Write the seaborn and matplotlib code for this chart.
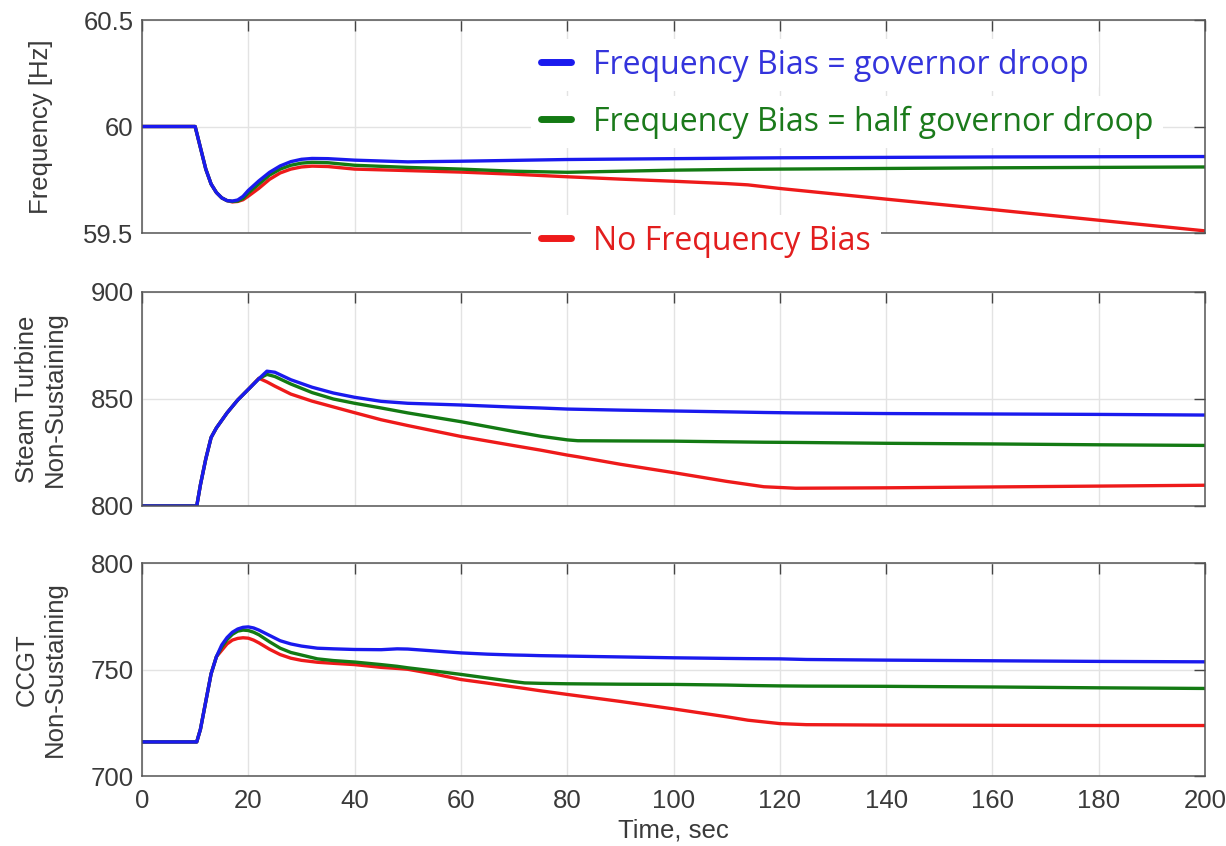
import numpy as np
import pandas as pd
import matplotlib
matplotlib.use("Agg")
import matplotlib.pyplot as plt
from matplotlib.lines import Line2D
import seaborn as sns

# ---------------- data ----------------
series_names = ["Frequency Bias = governor droop",
                "Frequency Bias = half governor droop",
                "No Frequency Bias"]
series_colors = ["#1a1aee", "#137a13", "#ee1a1a"]
text_colors = ["#3434dc", "#1b7a1b", "#e21e1e"]

# Frequency panel
t_freq = [0, 10, 11, 12, 13, 14, 15, 16, 17, 18, 19, 20, 22, 24, 26, 28, 30, 32, 35,
          40, 50, 60, 70, 80, 90, 100, 110, 114, 120, 140, 160, 180, 200]
freq_blue = [60.0, 60.0, 59.90, 59.80, 59.73, 59.69, 59.665, 59.652, 59.65, 59.655, 59.672,
             59.70, 59.745, 59.785, 59.815, 59.835, 59.846, 59.85, 59.849, 59.842, 59.834,
             59.837, 59.841, 59.845, 59.847, 59.849, 59.851, 59.852, 59.853, 59.855,
             59.857, 59.858, 59.859]
freq_green = [60.0, 60.0, 59.90, 59.80, 59.73, 59.69, 59.665, 59.652, 59.648, 59.65, 59.662,
              59.688, 59.73, 59.772, 59.80, 59.818, 59.828, 59.832, 59.83, 59.818, 59.808,
              59.80, 59.79, 59.785, 59.79, 59.795, 59.798, 59.799, 59.80, 59.803,
              59.806, 59.808, 59.81]
freq_red = [60.0, 60.0, 59.90, 59.80, 59.73, 59.69, 59.665, 59.652, 59.646, 59.648, 59.656,
            59.673, 59.71, 59.752, 59.782, 59.80, 59.81, 59.814, 59.812, 59.80, 59.793,
            59.786, 59.776, 59.764, 59.753, 59.743, 59.732, 59.726, 59.709, 59.659,
            59.61, 59.56, 59.51]

# Steam turbine panel
t_steam = [0, 10.3, 11, 12, 13, 14, 16, 18, 20, 22, 23.5, 25, 28, 32, 36, 40, 45, 50,
           60, 70, 75, 80, 82, 90, 100, 110, 117, 123, 140, 160, 180, 200]
steam_blue = [800, 800, 810, 822, 832, 836.5, 843.5, 849.5, 854.5, 859.5, 863, 862.5, 859,
              855.5, 852.8, 850.8, 848.9, 848, 847.2, 846.2, 845.8, 845.3, 845.2, 844.8,
              844.4, 844, 843.7, 843.5, 843.2, 843, 842.8, 842.5]
steam_green = [800, 800, 810, 822, 832, 836.5, 843.5, 849.5, 854.5, 859.5, 861.5, 860.5, 857,
               853, 850, 848, 845.8, 843.5, 839.4, 834.8, 832.6, 830.9, 830.5, 830.4,
               830.3, 830, 829.8, 829.7, 829.3, 829, 828.6, 828.3]
steam_red = [800, 800, 810, 822, 832, 836.5, 843.5, 849.5, 854.5, 859.7, 858, 856, 852.3,
             849, 846.3, 843.6, 840.3, 837.6, 832.5, 828.2, 826.1, 823.8, 823, 819.5,
             815.6, 811.5, 809, 808.3, 808.5, 808.9, 809.3, 809.7]

# CCGT panel
t_ccgt = [0, 10.3, 11, 12, 13, 14, 15, 16, 17, 18, 19, 20, 21, 22, 24, 26, 28, 30, 33, 36,
          40, 45, 48, 50, 55, 60, 65, 70, 72, 75, 80, 90, 100, 110, 114, 120, 125, 140,
          160, 180, 200]
ccgt_blue = [716, 716, 722, 735, 748, 756, 761.5, 765, 767.5, 769, 769.8, 770, 769.5, 768.5,
             766, 763.5, 762, 761, 760, 759.7, 759.4, 759.3, 759.7, 759.6, 758.7, 757.8,
             757.2, 756.8, 756.7, 756.5, 756.3, 755.9, 755.5, 755.2, 755.1, 755, 754.7,
             754.4, 754.1, 753.8, 753.6]
ccgt_green = [716, 716, 722, 735, 748, 756, 760.5, 764, 766.5, 768, 768.5, 768.3, 767.5,
              766.3, 763, 760, 758, 756.8, 755, 754.2, 753.5, 752.3, 751.5, 750.8, 749.3,
              747.7, 746, 744.3, 743.7, 743.5, 743.3, 743.1, 743, 742.7, 742.5, 742.3,
              742.2, 742.1, 741.8, 741.4, 741.1]
ccgt_red = [716, 716, 722, 735, 748, 756, 759, 762, 763.8, 764.6, 764.9, 764.7, 763.8,
            762.5, 759.5, 757, 755.3, 754.3, 753.4, 752.9, 752.3, 751.0, 750.5, 750.1,
            747.9, 745.3, 743.6, 741.8, 741.1, 740, 738.3, 735, 731.5, 727.8, 726.2,
            724.6, 724.1, 723.9, 723.8, 723.7, 723.7]

x_ticks = [0, 20, 40, 60, 80, 100, 120, 140, 160, 180, 200]
freq_ticks = [59.5, 60, 60.5]
freq_ticklabels = ["59.5", "60", "60.5"]
steam_ticks = [800, 850, 900]
ccgt_ticks = [700, 750, 800]
ylabels = ["Frequency [Hz]", "Steam Turbine\nNon-Sustaining", "CCGT\nNon-Sustaining"]
xlabel = "Time, sec"


def long_df(t, blue, green, red):
    frames = []
    for name, vals in zip(series_names, [blue, green, red]):
        frames.append(pd.DataFrame({"t": t, "v": vals, "case": name}))
    return pd.concat(frames, ignore_index=True)


panels = [
    (long_df(t_freq, freq_blue, freq_green, freq_red), (59.5, 60.5), freq_ticks, freq_ticklabels),
    (long_df(t_steam, steam_blue, steam_green, steam_red), (800, 900), steam_ticks, None),
    (long_df(t_ccgt, ccgt_blue, ccgt_green, ccgt_red), (700, 800), ccgt_ticks, None),
]

# ---------------- style ----------------
sns.set_theme(style="white")
plt.rcParams["font.family"] = ["Liberation Sans", "DejaVu Sans"]

W, H = 1226, 846
fig = plt.figure(figsize=(W / 100, H / 100), dpi=100)
boxes = [(20, 233), (292, 506), (563, 776)]
left_px, right_px = 142, 1205
axes = []
for (top, bot) in boxes:
    ax = fig.add_axes([left_px / W, 1 - bot / H, (right_px - left_px) / W, (bot - top) / H])
    axes.append(ax)

palette = dict(zip(series_names, series_colors))
tick_color = "#3a3a3a"
FS = 18.5
for i, (ax, (df, ylim, yt, ytl)) in enumerate(zip(axes, panels)):
    sns.lineplot(data=df, x="t", y="v", hue="case", palette=palette, estimator=None,
                 linewidth=2.4, legend=False, ax=ax, hue_order=series_names[::-1])
    ax.set_xlim(0, 200)
    ax.set_ylim(*ylim)
    ax.set_xticks(x_ticks)
    ax.set_yticks(yt)
    if ytl is not None:
        ax.set_yticklabels(ytl)
    ax.grid(True, color="#e3e3e3", linewidth=1.0)
    ax.set_axisbelow(True)
    ax.tick_params(direction="in", length=8, width=1.0, top=True, right=True,
                   color="#444444", labelsize=FS, labelcolor=tick_color, pad=6)
    ax.tick_params(axis="x", pad=9)
    for sp in ax.spines.values():
        sp.set_color("#555555")
        sp.set_linewidth(1.1)
    ax.set_ylabel(ylabels[i], fontsize=FS, color=tick_color, va="center", linespacing=1.2)
    ax.yaxis.set_label_coords(-0.095, 0.5)
    if i < 2:
        ax.tick_params(labelbottom=False)
        ax.set_xlabel("")
    else:
        ax.set_xlabel(xlabel, fontsize=FS, color=tick_color, labelpad=4)

# ---------------- legend entries (each on its own white box) ----------------
leg_y = [65, 122, 241]
for name, col, tcol, yy in zip(series_names, series_colors, text_colors, leg_y):
    h = Line2D([0], [0], color=col, linewidth=5)
    leg = fig.legend(handles=[h], labels=[name], loc="center left",
                     bbox_to_anchor=(531 / W, 1 - yy / H), frameon=True,
                     facecolor="white", edgecolor="none", framealpha=1.0,
                     prop={"family": "Open Sans", "size": 23}, handlelength=0.95,
                     handletextpad=0.7, borderpad=0.3, borderaxespad=0)
    for txt in leg.get_texts():
        txt.set_color(tcol)
    leg.set_zorder(10)

fig.savefig("out.png", dpi=100)
